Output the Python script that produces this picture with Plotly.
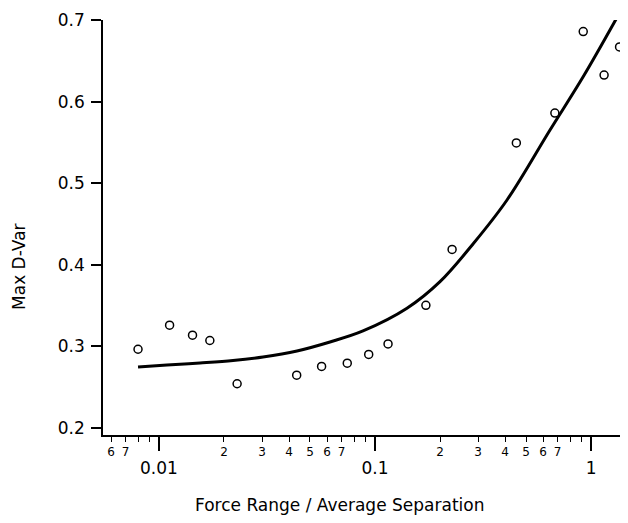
import plotly.graph_objects as go

# Measured data points (Force Range / Average Separation, Max D-Var)
point_x = [0.0080, 0.0112, 0.0143, 0.0172, 0.0230, 0.0434, 0.0566, 0.0744, 0.0935, 0.1149,
           0.172, 0.2274, 0.451, 0.680, 0.920, 1.149, 1.355]
point_y = [0.2965, 0.326, 0.3137, 0.3072, 0.2542, 0.2647, 0.2754, 0.2794, 0.2901, 0.3030,
           0.3503, 0.4188, 0.5493, 0.5860, 0.6858, 0.6325, 0.6670]

# Fitted curve
curve_x = [0.00800, 0.01089, 0.01549, 0.02202, 0.03031, 0.04354, 0.06189, 0.08799,
           0.1406, 0.1999, 0.2842, 0.4083, 0.6457, 0.9177, 1.3045]
curve_y = [0.2748, 0.2772, 0.2797, 0.2827, 0.2870, 0.2944, 0.3054, 0.3189,
           0.3467, 0.3793, 0.4255, 0.4794, 0.5652, 0.6301, 0.7009]

# Axis ticks
y_ticks = [0.2, 0.3, 0.4, 0.5, 0.6, 0.7]
y_ticklabels = ["0.2", "0.3", "0.4", "0.5", "0.6", "0.7"]
x_major = [0.01, 0.1, 1]
x_major_labels = ["0.01", "0.1", "1"]
x_minor = [0.006, 0.007, 0.008, 0.009,
           0.02, 0.03, 0.04, 0.05, 0.06, 0.07, 0.08, 0.09,
           0.2, 0.3, 0.4, 0.5, 0.6, 0.7, 0.8, 0.9]
x_minor_labels = ["6", "7", "", "",
                  "2", "3", "4", "5", "6", "7", "", "",
                  "2", "3", "4", "5", "6", "7", "", ""]

FONT = "DejaVu Sans"
x_range = [-2.259, 0.171]

fig = go.Figure()
fig.add_trace(go.Scatter(x=curve_x, y=curve_y, mode="lines",
                         line=dict(color="black", width=3, shape="spline", smoothing=1.0),
                         showlegend=False, hoverinfo="skip", cliponaxis=False))
fig.add_trace(go.Scatter(x=point_x, y=point_y, mode="markers",
                         marker=dict(symbol="circle", size=8, color="white",
                                     line=dict(color="black", width=1.5)),
                         showlegend=False, cliponaxis=False))
# invisible trace for the minor-label axis
fig.add_trace(go.Scatter(x=[x_minor[0]], y=[0.5], xaxis="x2", mode="markers",
                         marker=dict(opacity=0), showlegend=False, hoverinfo="skip"))

# page body has an 8px margin, so the figure is sized to fill the rest of the window
fig.update_layout(
    width=620, height=515,
    margin=dict(l=95, r=0, t=12, b=88, autoexpand=False),
    paper_bgcolor="white", plot_bgcolor="white",
    font=dict(family=FONT, color="black"),
    xaxis=dict(type="log", range=x_range, showgrid=False, zeroline=False, automargin=False,
               showline=True, linecolor="black", linewidth=1.5,
               ticks="outside", ticklen=14, tickwidth=1.5, tickcolor="black",
               tickmode="array", tickvals=x_major, ticktext=x_major_labels,
               tickfont=dict(size=17, family=FONT), ticklabelstandoff=3),
    xaxis2=dict(type="log", range=x_range, overlaying="x", anchor="y", side="bottom",
                showgrid=False, zeroline=False, showline=False, automargin=False,
                ticks="outside", ticklen=6, tickwidth=1.3, tickcolor="black",
                tickmode="array", tickvals=x_minor, ticktext=x_minor_labels,
                tickfont=dict(size=12, family=FONT)),
    yaxis=dict(range=[0.1914, 0.7], showgrid=False, zeroline=False, automargin=False,
               showline=True, linecolor="black", linewidth=1.5,
               ticks="outside", ticklen=10, tickwidth=1.5, tickcolor="black",
               tickmode="array", tickvals=y_ticks, ticktext=y_ticklabels,
               tickfont=dict(size=17, family=FONT), ticklabelstandoff=3),
    annotations=[
        dict(text="Force Range / Average Separation", xref="paper", yref="paper",
             x=0.4514, y=-0.1687, xanchor="center", yanchor="middle", showarrow=False,
             font=dict(size=17, family=FONT)),
        dict(text="Max D-Var", xref="paper", yref="paper", textangle=-90,
             x=-0.16, y=0.405, xanchor="center", yanchor="middle", showarrow=False,
             font=dict(size=17, family=FONT)),
    ],
)

fig.write_html("out.html")
